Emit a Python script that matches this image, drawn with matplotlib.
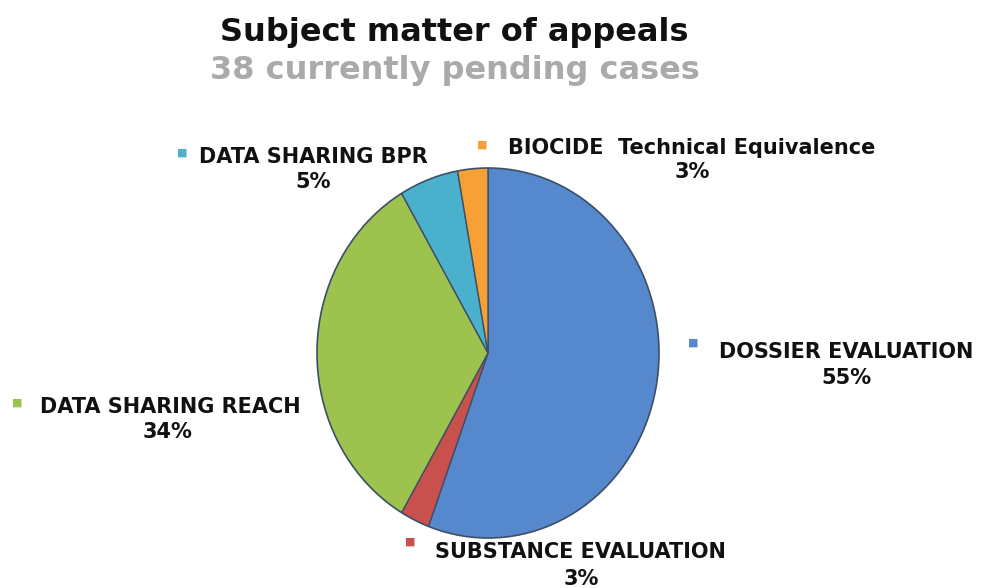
import matplotlib
matplotlib.use("Agg")
import matplotlib.pyplot as plt
from matplotlib.patches import Ellipse

categories = ["DOSSIER EVALUATION", "SUBSTANCE EVALUATION", "DATA SHARING REACH",
              "DATA SHARING BPR", "BIOCIDE  Technical Equivalence"]
counts = [21, 1, 13, 2, 1]
colors = ["#5588CC", "#C8504D", "#9DC24E", "#4BB0CC", "#F7A035"]
title = "Subject matter of appeals"
subtitle = "38 currently pending cases"

W, H = 981, 588
fig = plt.figure(figsize=(W / 100, H / 100), dpi=100)
fig.patch.set_facecolor("white")

def fx(x):
    return x / W

def fy(y):
    return 1 - y / H

ax = fig.add_axes([0, 0, 1, 1])

cx, cy = 488, H - 353
rx, ry = 171, 185
wedges, _ = ax.pie(counts, colors=colors, startangle=90, counterclock=False,
                   radius=ry + 40, center=(cx, cy),
                   wedgeprops=dict(edgecolor="#3d4f66", linewidth=1.0))
ax.set_xlim(0, W)
ax.set_ylim(0, H)
ax.set_aspect("equal")
ax.axis("off")

outline = Ellipse((cx, cy), 2 * rx, 2 * ry, fill=False,
                  edgecolor="#3d4f66", linewidth=1.2, zorder=5)
ax.add_patch(outline)
for w in wedges:
    w.set_clip_on(True)
    w.set_clip_path(outline)

fig.text(fx(454), fy(32), title, ha="center", va="center", fontsize=23,
         fontweight="bold", color="#111111", family="DejaVu Sans")
fig.text(fx(455), fy(71), subtitle, ha="center", va="center", fontsize=23,
         fontweight="bold", color="#AAAAAA", family="DejaVu Sans")

total = sum(counts)
# (name center x, name y, pct center x, pct y, marker x, marker y)
label_pos = [
    (846, 352, 846, 378, 693, 343),
    (580, 552, 581, 579, 410, 542),
    (170, 407, 168, 432, 17, 403),
    (313, 157, 313, 182, 182, 153),
    (692, 148, 692, 172, 482, 145),
]
for name, c, col, (nx, ny, px, py, mx, my) in zip(categories, counts, colors, label_pos):
    pct = round(c / total * 100)
    fig.text(fx(nx), fy(ny), name, ha="center", va="center", fontsize=15,
             fontweight="bold", color="#111111", family="DejaVu Sans")
    fig.text(fx(px), fy(py), f"{pct}%", ha="center", va="center", fontsize=15,
             fontweight="bold", color="#111111", family="DejaVu Sans")
    fig.text(fx(mx), fy(my), "\u25A0", ha="center", va="center", fontsize=8,
             color=col, family="DejaVu Sans")

fig.savefig("out.png", dpi=100, facecolor="white")
